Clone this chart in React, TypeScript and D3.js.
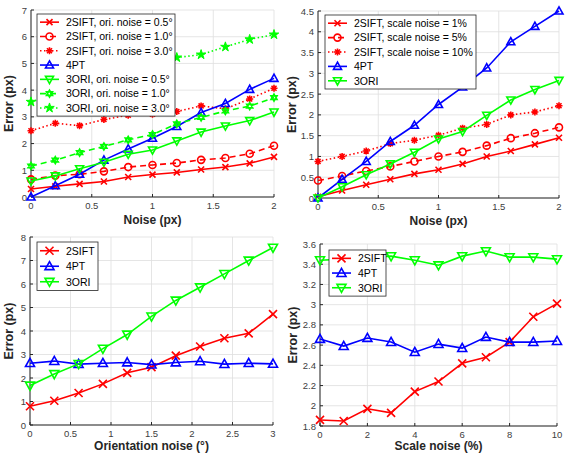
import React, { useEffect, useRef } from 'react';
import * as d3 from 'd3';

// x values
const noisePx = [0, 0.2, 0.4, 0.6, 0.8, 1.0, 1.2, 1.4, 1.6, 1.8, 2.0];
const oriNoise = [0, 0.3, 0.6, 0.9, 1.2, 1.5, 1.8, 2.1, 2.4, 2.7, 3.0];
const scaleNoise = [0, 1, 2, 3, 4, 5, 6, 7, 8, 9, 10];

// panel 1: pixel noise with orientation noise
const p1Sift05 = [0.3, 0.4, 0.49, 0.58, 0.75, 0.84, 0.92, 1.03, 1.12, 1.26, 1.5];
const p1Sift10 = [0.66, 0.8, 0.85, 0.96, 1.12, 1.2, 1.27, 1.39, 1.46, 1.62, 1.92];
const p1Sift30 = [2.48, 2.76, 2.67, 2.9, 3.06, 3.1, 3.2, 3.41, 3.3, 3.67, 4.07];
const p1FourPt = [0, 0.42, 0.85, 1.38, 1.8, 2.2, 2.64, 3.16, 3.5, 4.03, 4.44];
const p1Ori05 = [0.6, 0.79, 1.06, 1.3, 1.6, 1.76, 2.1, 2.43, 2.66, 2.86, 3.18];
const p1Ori10 = [1.16, 1.38, 1.66, 1.89, 2.14, 2.34, 2.74, 2.98, 3.22, 3.4, 3.72];
const p1Ori30 = [3.56, 3.85, 4.15, 4.45, 4.75, 5.0, 5.22, 5.33, 5.62, 5.9, 6.08];

// panel 2: pixel noise with scale noise
const p2Sift1 = [0.03, 0.18, 0.32, 0.45, 0.58, 0.68, 0.82, 1.0, 1.13, 1.29, 1.45];
const p2Sift5 = [0.42, 0.53, 0.65, 0.76, 0.88, 1.0, 1.11, 1.26, 1.44, 1.56, 1.7];
const p2Sift10 = [0.88, 1.0, 1.13, 1.31, 1.39, 1.51, 1.68, 1.77, 2.0, 2.07, 2.22];
const p2FourPt = [0, 0.45, 0.88, 1.36, 1.75, 2.25, 2.67, 3.13, 3.76, 4.13, 4.5];
const p2Ori = [0, 0.27, 0.56, 0.82, 1.1, 1.42, 1.6, 1.99, 2.36, 2.61, 2.83];

// panel 3: orientation noise
const p3Sift = [0.8, 1.03, 1.36, 1.75, 2.22, 2.46, 2.95, 3.34, 3.69, 3.9, 4.72];
const p3FourPt = [2.63, 2.72, 2.59, 2.63, 2.66, 2.57, 2.66, 2.71, 2.59, 2.63, 2.6];
const p3Ori = [1.68, 2.17, 2.6, 3.25, 3.85, 4.62, 5.3, 5.86, 6.43, 7.0, 7.55];

// panel 4: scale noise
const p4Sift = [1.86, 1.85, 1.97, 1.93, 2.14, 2.24, 2.42, 2.48, 2.63, 2.88, 3.01];
const p4FourPt = [2.66, 2.59, 2.67, 2.63, 2.53, 2.61, 2.57, 2.68, 2.63, 2.63, 2.64];
const p4Ori = [3.44, 3.45, 3.47, 3.48, 3.44, 3.39, 3.48, 3.53, 3.47, 3.47, 3.45];

const RED = '#ff0000';
const BLUE = '#0000ff';
const GREEN = '#00ff00';
const FONT = '"Liberation Sans", Arial, sans-serif';

type Series = { name: string; color: string; dash: string; marker: string; ms: number; values: number[] };

type PanelSpec = {
  left: number; right: number; top: number; bottom: number;
  x: number[]; xDomain: [number, number]; xTicks: number[];
  yDomain: [number, number]; yTicks: number[];
  xLabel: string; xLabelY: number; yLabelX: number;
  series: Series[];
  legend: { x: number; y: number; w: number; row: number };
};

const DOT = '1.5,2.5';
const DASH = '6,4';

const panels: PanelSpec[] = [
  {
    left: 31, right: 274, top: 10, bottom: 197,
    x: noisePx, xDomain: [0, 2], xTicks: [0, 0.5, 1, 1.5, 2],
    yDomain: [0, 7], yTicks: d3.range(0, 8),
    xLabel: 'Noise (px)', xLabelY: 224, yLabelX: 13,
    series: [
      { name: '2SIFT, ori. noise = 0.5°', color: RED, dash: '', marker: 'x', ms: 6, values: p1Sift05 },
      { name: '2SIFT, ori. noise = 1.0°', color: RED, dash: DASH, marker: 'o', ms: 7, values: p1Sift10 },
      { name: '2SIFT, ori. noise = 3.0°', color: RED, dash: DOT, marker: '*', ms: 7, values: p1Sift30 },
      { name: '4PT', color: BLUE, dash: '', marker: '^', ms: 8, values: p1FourPt },
      { name: '3ORI, ori. noise = 0.5°', color: GREEN, dash: '', marker: 'v', ms: 8, values: p1Ori05 },
      { name: '3ORI, ori. noise = 1.0°', color: GREEN, dash: DASH, marker: 'h', ms: 7, values: p1Ori10 },
      { name: '3ORI, ori. noise = 3.0°', color: GREEN, dash: DOT, marker: 'p', ms: 8, values: p1Ori30 },
    ],
    legend: { x: 37, y: 14, w: 138, row: 14.3 },
  },
  {
    left: 318, right: 559, top: 11, bottom: 198,
    x: noisePx, xDomain: [0, 2], xTicks: [0, 0.5, 1, 1.5, 2],
    yDomain: [0, 4.5], yTicks: d3.range(0, 4.51, 0.5),
    xLabel: 'Noise (px)', xLabelY: 225, yLabelX: 296,
    series: [
      { name: '2SIFT, scale noise = 1%', color: RED, dash: '', marker: 'x', ms: 6, values: p2Sift1 },
      { name: '2SIFT, scale noise = 5%', color: RED, dash: DASH, marker: 'o', ms: 7, values: p2Sift5 },
      { name: '2SIFT, scale noise = 10%', color: RED, dash: DOT, marker: '*', ms: 7, values: p2Sift10 },
      { name: '4PT', color: BLUE, dash: '', marker: '^', ms: 8, values: p2FourPt },
      { name: '3ORI', color: GREEN, dash: '', marker: 'v', ms: 8, values: p2Ori },
    ],
    legend: { x: 325, y: 15, w: 151, row: 14.4 },
  },
  {
    left: 30, right: 273, top: 237, bottom: 425,
    x: oriNoise, xDomain: [0, 3], xTicks: d3.range(0, 3.01, 0.5),
    yDomain: [0, 8], yTicks: d3.range(0, 9),
    xLabel: 'Orientation noise (°)', xLabelY: 450, yLabelX: 13,
    series: [
      { name: '2SIFT', color: RED, dash: '', marker: 'x', ms: 8, values: p3Sift },
      { name: '4PT', color: BLUE, dash: '', marker: '^', ms: 9, values: p3FourPt },
      { name: '3ORI', color: GREEN, dash: '', marker: 'v', ms: 9, values: p3Ori },
    ],
    legend: { x: 37, y: 242, w: 61, row: 15.5 },
  },
  {
    left: 320, right: 557, top: 244, bottom: 426,
    x: scaleNoise, xDomain: [0, 10], xTicks: d3.range(0, 11, 2),
    yDomain: [1.8, 3.6], yTicks: d3.range(1.8, 3.61, 0.2),
    xLabel: 'Scale noise (%)', xLabelY: 450, yLabelX: 297,
    series: [
      { name: '2SIFT', color: RED, dash: '', marker: 'x', ms: 8, values: p4Sift },
      { name: '4PT', color: BLUE, dash: '', marker: '^', ms: 9, values: p4FourPt },
      { name: '3ORI', color: GREEN, dash: '', marker: 'v', ms: 9, values: p4Ori },
    ],
    legend: { x: 329, y: 250, w: 57, row: 14.7 },
  },
];

function drawMarker(g: any, type: string, cx: number, cy: number, s: number, color: string) {
  const r = s / 2;
  const stroke = (sel: any) => sel.attr('stroke', color).attr('stroke-width', 1.6).attr('fill', 'none');
  if (type === 'x') {
    stroke(g.append('path').attr('d', `M${cx - r},${cy - r}L${cx + r},${cy + r}M${cx - r},${cy + r}L${cx + r},${cy - r}`));
  } else if (type === 'o') {
    stroke(g.append('circle').attr('cx', cx).attr('cy', cy).attr('r', r));
  } else if (type === '*') {
    const d = r * 0.72;
    stroke(g.append('path').attr('d',
      `M${cx - r},${cy}L${cx + r},${cy}M${cx},${cy - r}L${cx},${cy + r}` +
      `M${cx - d},${cy - d}L${cx + d},${cy + d}M${cx - d},${cy + d}L${cx + d},${cy - d}`));
  } else if (type === '^') {
    stroke(g.append('path').attr('d', `M${cx},${cy - r * 1.05}L${cx + r},${cy + r * 0.75}L${cx - r},${cy + r * 0.75}Z`));
  } else if (type === 'v') {
    stroke(g.append('path').attr('d', `M${cx},${cy + r * 1.05}L${cx + r},${cy - r * 0.75}L${cx - r},${cy - r * 0.75}Z`));
  } else if (type === 'h') {
    const t1 = d3.range(3).map((i) => [cx + r * Math.sin((i * 2 * Math.PI) / 3), cy - r * Math.cos((i * 2 * Math.PI) / 3)]);
    const t2 = d3.range(3).map((i) => [cx + r * Math.sin((i * 2 * Math.PI) / 3 + Math.PI), cy - r * Math.cos((i * 2 * Math.PI) / 3 + Math.PI)]);
    const p = (t: number[][]) => 'M' + t.map((q) => q.join(',')).join('L') + 'Z';
    stroke(g.append('path').attr('d', p(t1) + p(t2)));
  } else if (type === 'p') {
    // symbolStar size is an area; aim for an outer radius near r + 1
    const outer = r + 1;
    g.append('path')
      .attr('d', d3.symbol().type(d3.symbolStar).size((outer * outer) / 0.89)())
      .attr('transform', `translate(${cx},${cy})`)
      .attr('fill', color)
      .attr('stroke', color)
      .attr('stroke-width', 1);
  }
}

function Panel({ spec }: { spec: PanelSpec }) {
  const ref = useRef<SVGGElement>(null);

  useEffect(() => {
    const g = d3.select(ref.current);
    g.selectAll('*').remove();
    const x = d3.scaleLinear().domain(spec.xDomain).range([spec.left, spec.right]);
    const y = d3.scaleLinear().domain(spec.yDomain).range([spec.bottom, spec.top]);
    const fmt = (v: number) => String(+v.toFixed(2));

    // grid
    const grid = g.append('g').attr('stroke', '#dedede').attr('stroke-width', 0.8);
    spec.xTicks.forEach((t) => grid.append('line').attr('x1', x(t)).attr('x2', x(t)).attr('y1', spec.top).attr('y2', spec.bottom));
    spec.yTicks.forEach((t) => grid.append('line').attr('x1', spec.left).attr('x2', spec.right).attr('y1', y(t)).attr('y2', y(t)));

    // axes
    const axis = g.append('g').attr('stroke', '#262626').attr('stroke-width', 1);
    axis.append('line').attr('x1', spec.left).attr('x2', spec.left).attr('y1', spec.top).attr('y2', spec.bottom);
    axis.append('line').attr('x1', spec.left).attr('x2', spec.right).attr('y1', spec.bottom).attr('y2', spec.bottom);
    spec.xTicks.forEach((t) => axis.append('line').attr('x1', x(t)).attr('x2', x(t)).attr('y1', spec.bottom).attr('y2', spec.bottom - 3));
    spec.yTicks.forEach((t) => axis.append('line').attr('x1', spec.left).attr('x2', spec.left + 3).attr('y1', y(t)).attr('y2', y(t)));

    const labels = g.append('g').attr('font-family', FONT).attr('font-size', 9.5).attr('fill', '#404040');
    spec.xTicks.forEach((t) =>
      labels.append('text').attr('x', x(t)).attr('y', spec.bottom + 12).attr('text-anchor', 'middle').text(fmt(t)));
    spec.yTicks.forEach((t) =>
      labels.append('text').attr('x', spec.left - 4).attr('y', y(t) + 3.5).attr('text-anchor', 'end').text(fmt(t)));

    g.append('text')
      .attr('x', (spec.left + spec.right) / 2).attr('y', spec.xLabelY)
      .attr('text-anchor', 'middle').attr('font-family', FONT).attr('font-weight', 'bold')
      .attr('font-size', 12).attr('fill', '#262626').text(spec.xLabel);
    g.append('text')
      .attr('transform', `translate(${spec.yLabelX},${(spec.top + spec.bottom) / 2}) rotate(-90)`)
      .attr('text-anchor', 'middle').attr('font-family', FONT).attr('font-weight', 'bold')
      .attr('font-size', 12.5).attr('fill', '#262626').text('Error (px)');

    // series
    const line = d3.line<number>().x((_, i) => x(spec.x[i])).y((d) => y(d));
    spec.series.forEach((s) => {
      g.append('path').attr('d', line(s.values)).attr('fill', 'none')
        .attr('stroke', s.color).attr('stroke-width', 1.6).attr('stroke-dasharray', s.dash || null);
      const mg = g.append('g');
      s.values.forEach((v, i) => drawMarker(mg, s.marker, x(spec.x[i]), y(v), s.ms, s.color));
    });

    // legend
    const L = spec.legend;
    const lg = g.append('g');
    lg.append('rect').attr('x', L.x).attr('y', L.y).attr('width', L.w)
      .attr('height', L.row * spec.series.length + 2).attr('fill', 'white')
      .attr('stroke', '#262626').attr('stroke-width', 0.8);
    spec.series.forEach((s, i) => {
      const cy = L.y + 1 + L.row * (i + 0.5);
      lg.append('line').attr('x1', L.x + 3).attr('x2', L.x + 22).attr('y1', cy).attr('y2', cy)
        .attr('stroke', s.color).attr('stroke-width', 1.6).attr('stroke-dasharray', s.dash || null);
      drawMarker(lg, s.marker, L.x + 12.5, cy, s.ms, s.color);
      lg.append('text').attr('x', L.x + 29).attr('y', cy + 3.8).attr('font-family', FONT)
        .attr('font-size', 10.5).attr('fill', '#000').text(s.name);
    });
  }, [spec]);

  return <g ref={ref} />;
}

export default function App() {
  return (
    <svg width={566} height={454} style={{ position: 'absolute', left: 0, top: 0, background: '#fff' }}>
      {panels.map((p, i) => (
        <Panel key={i} spec={p} />
      ))}
    </svg>
  );
}
